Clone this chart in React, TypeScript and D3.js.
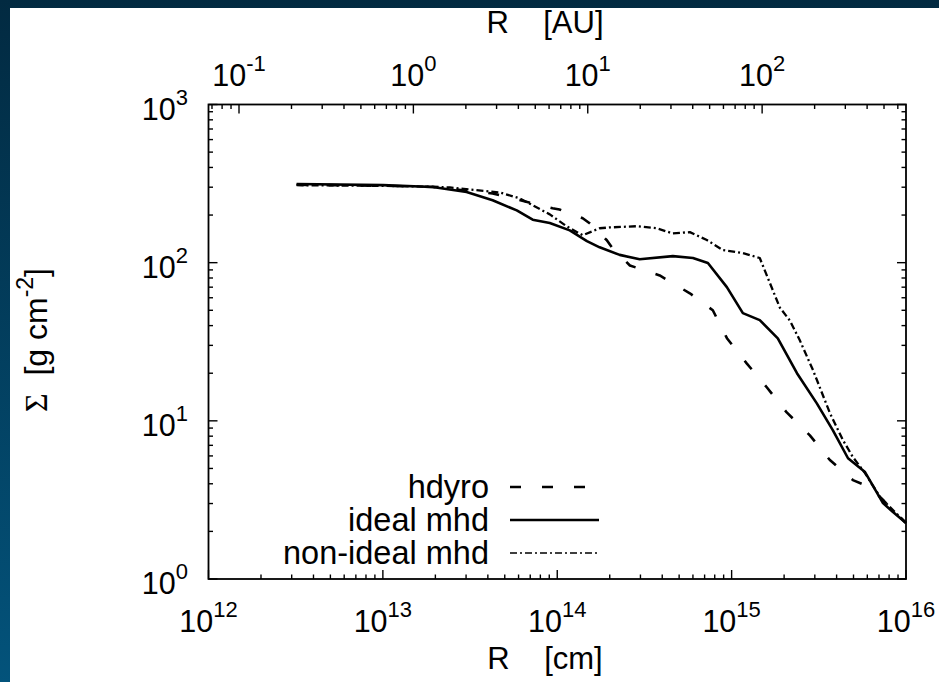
import React from "react";
import * as d3 from "d3";

// ---- data (R in cm, Sigma in g cm^-2) ----
const hydroR = [3.2e12, 1e13, 1.93e13, 4.26e13, 9.4e13, 1.03e14, 1.4e14, 1.54e14, 1.92e14, 2.08e14, 2.61e14, 3.87e14, 5.76e14, 7.8e14, 9.4e14, 1.22e15, 1.59e15, 2.07e15, 2.81e15, 3.66e15, 4.96e15, 6.21e15, 7.38e15, 1e16];
const hydroS = [311, 306, 301, 274, 221, 217, 191, 177, 139, 123, 96, 83, 64, 50, 33.3, 23.1, 16.3, 11.3, 8.1, 5.65, 4.22, 3.81, 3.16, 2.26];

const idealR = [3.2e12, 1e13, 1.93e13, 3.02e13, 4.26e13, 5.86e13, 7.23e13, 9.06e13, 1.18e14, 1.48e14, 1.75e14, 2.28e14, 2.97e14, 4.6e14, 6.0e14, 7.31e14, 9.39e14, 1.16e15, 1.45e15, 1.84e15, 2.37e15, 3.08e15, 3.81e15, 4.65e15, 5.82e15, 7.38e15, 8.42e15, 1e16];
const idealS = [314, 309, 301, 280, 248, 214, 187, 178, 160, 137, 125, 112, 105, 110, 107, 99.6, 70, 48, 43.3, 33.2, 20, 12.9, 8.7, 5.8, 4.74, 3.02, 2.65, 2.26];

const nonIdealR = [3.2e12, 1e13, 1.93e13, 2.42e13, 4.68e13, 6.09e13, 9.06e13, 1.13e14, 1.4e14, 1.75e14, 2.0e14, 2.86e14, 3.72e14, 4.6e14, 5.76e14, 7.21e14, 8.91e14, 1.16e15, 1.45e15, 1.66e15, 1.89e15, 2.16e15, 2.46e15, 2.93e15, 3.66e15, 4.35e15, 4.96e15, 5.82e15, 7.1e15, 8.09e15, 1e16];
const nonIdealS = [309, 306, 302, 299, 278, 255, 202, 170, 149, 165, 167, 170, 165, 153, 156, 139, 120, 115, 107, 74, 52, 43, 32.3, 20.9, 11.2, 7.55, 5.9, 4.67, 3.3, 2.85, 2.26];

const seriesNames = ["hdyro", "ideal mhd", "non-ideal mhd"];
const xExps = [12, 13, 14, 15, 16];
const yExps = [0, 1, 2, 3];
const auExps = [-1, 0, 1, 2];
const AU = 1.496e13;

const W = 939;
const H = 682;
const L = 208.5, R = 906, T = 104.5, B = 579;
const FONT = "'Liberation Sans', Arial, Helvetica, sans-serif";
const TF = 30.5; // tick label font
const SF = 22; // superscript font
const SUP = -15;

export default function App() {
  const x = d3.scaleLog().domain([1e12, 1e16]).range([L, R]);
  const y = d3.scaleLog().domain([1, 1000]).range([B, T]);
  const xa = d3.scaleLog().domain([1e12 / AU, 1e16 / AU]).range([L, R]);

  const line = d3
    .line<[number, number]>()
    .x((d) => x(d[0]))
    .y((d) => y(d[1]));

  const zip = (a: number[], b: number[]) => a.map((v, i) => [v, b[i]] as [number, number]);

  const series = [
    { name: seriesNames[0], d: line(zip(hydroR, hydroS)) || "", dash: "11,21", w: 2.6 },
    { name: seriesNames[1], d: line(zip(idealR, idealS)) || "", dash: "none", w: 2.6 },
    { name: seriesNames[2], d: line(zip(nonIdealR, nonIdealS)) || "", dash: "7,3,2,3", w: 2.3 },
  ];

  const isMajor = (v: number) => Math.abs(Math.log10(v) - Math.round(Math.log10(v))) < 1e-6;
  const xt = x.ticks();
  const yt = y.ticks();
  const at = xa.ticks();
  const MAJ = 9, MIN = 4.5;

  return (
    <svg width={W} height={H} style={{ position: "fixed", left: 0, top: 0, display: "block" }} fontFamily={FONT}>
      <defs>
        <linearGradient id="bg" x1="0" y1="0" x2="0" y2="1">
          <stop offset="0" stopColor="#022a41" />
          <stop offset="1" stopColor="#03537b" />
        </linearGradient>
      </defs>
      <rect x={0} y={0} width={W} height={H} fill="url(#bg)" />
      <rect x={10} y={8} width={W - 10} height={H - 8} fill="#ffffff" />

      {/* ticks */}
      <g stroke="#000" strokeWidth={1.4}>
        {xt.map((v, i) => {
          const len = isMajor(v) ? MAJ : MIN;
          return <line key={"xb" + i} x1={x(v)} x2={x(v)} y1={B} y2={B - len} />;
        })}
        {at.map((v, i) => {
          const len = isMajor(v) ? MAJ : MIN;
          return <line key={"xt" + i} x1={xa(v)} x2={xa(v)} y1={T} y2={T + len} />;
        })}
        {yt.map((v, i) => {
          const len = isMajor(v) ? MAJ : MIN;
          return (
            <g key={"y" + i}>
              <line x1={L} x2={L + len} y1={y(v)} y2={y(v)} />
              <line x1={R} x2={R - len} y1={y(v)} y2={y(v)} />
            </g>
          );
        })}
      </g>
      <rect x={L} y={T} width={R - L} height={B - T} fill="none" stroke="#000" strokeWidth={1.8} />

      {/* curves */}
      {series.map((s, i) => (
        <path key={i} d={s.d} fill="none" stroke="#000" strokeWidth={s.w} strokeDasharray={s.dash} strokeLinejoin="round" />
      ))}

      {/* bottom tick labels */}
      {xExps.map((e) => (
        <text key={"xl" + e} x={x(Math.pow(10, e))} y={632} textAnchor="middle" fontSize={TF}>
          <tspan>10</tspan>
          <tspan dy={SUP} fontSize={SF}>{e}</tspan>
        </text>
      ))}
      {/* top tick labels */}
      {auExps.map((e) => (
        <text key={"al" + e} x={xa(Math.pow(10, e))} y={86} textAnchor="middle" fontSize={TF}>
          <tspan>10</tspan>
          <tspan dy={SUP} fontSize={SF}>{e}</tspan>
        </text>
      ))}
      {/* left tick labels */}
      {yExps.map((e) => (
        <text key={"yl" + e} x={188} y={y(Math.pow(10, e)) + 15} textAnchor="end" fontSize={TF}>
          <tspan>10</tspan>
          <tspan dy={SUP} fontSize={SF}>{e}</tspan>
        </text>
      ))}

      {/* axis titles */}
      <text x={545} y={669} textAnchor="middle" fontSize={31} style={{ whiteSpace: "pre" }}>
        {"R    [cm]"}
      </text>
      <text x={545} y={33} textAnchor="middle" fontSize={31} style={{ whiteSpace: "pre" }}>
        {"R    [AU]"}
      </text>
      <text transform="translate(47,340) rotate(-90)" textAnchor="middle" fontSize={32} style={{ whiteSpace: "pre" }}>
        <tspan fontFamily="'Liberation Serif', 'DejaVu Serif', serif">Σ</tspan>
        <tspan>{"  [g cm"}</tspan>
        <tspan dy={-14} fontSize={23}>-2</tspan>
        <tspan dy={14}>]</tspan>
      </text>

      {/* legend */}
      {series.map((s, i) => {
        const ly = 487 + i * 33;
        return (
          <g key={"lg" + i}>
            <text x={489} y={ly + 11} textAnchor="end" fontSize={32.5}>
              {s.name}
            </text>
            <line x1={510} x2={599} y1={ly} y2={ly} stroke="#000" strokeWidth={i === 2 ? 1.7 : s.w} strokeDasharray={s.dash} />
          </g>
        );
      })}
    </svg>
  );
}
